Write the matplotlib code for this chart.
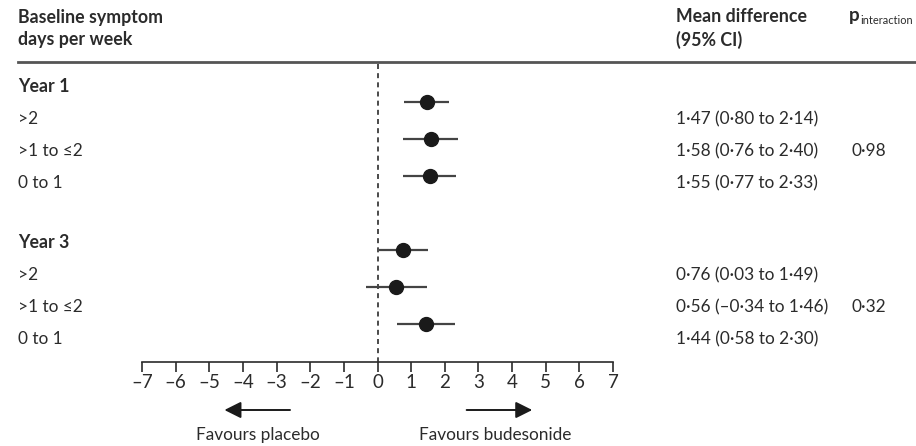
import matplotlib
matplotlib.use("Agg")
import matplotlib.pyplot as plt
from matplotlib.transforms import blended_transform_factory

plt.rcParams['font.family'] = ['Lato', 'DejaVu Sans']

# data
groups = ["Year 1", "Year 3"]
subgroups = [">2", ">1 to \u22642", "0 to 1"]
year1_mean = [1.47, 1.58, 1.55]
year1_lo = [0.80, 0.76, 0.77]
year1_hi = [2.14, 2.40, 2.33]
year3_mean = [0.76, 0.56, 1.44]
year3_lo = [0.03, -0.34, 0.58]
year3_hi = [1.49, 1.46, 2.30]
p_interaction = ["0\u00b798", "0\u00b732"]
ticks = list(range(-7, 8))

TXT = "#2b2b2b"
W, H = 916, 446
FS = 12.4     # body text
FSB = 12.8    # bold headers


def fmt(v):
    s = f"{abs(v):.2f}".replace(".", "\u00b7")
    return ("\u2013" if v < 0 else "") + s


fig = plt.figure(figsize=(W / 100, H / 100), dpi=100)
ax = fig.add_axes([0, 0, 1, 1])

# x: -7 at px 142, 7 at px 613 ; y in pixel rows (top = 0)
x0, x1 = 142, 613
unit = (x1 - x0) / 14
ax.set_xlim(-7 - x0 / unit, 7 + (W - x1) / unit)
ax.set_ylim(H, 0)
tr = blended_transform_factory(ax.transAxes, ax.transData)

for s in ["top", "left", "right"]:
    ax.spines[s].set_visible(False)
ax.spines["bottom"].set_position(("data", 362))
ax.spines["bottom"].set_bounds(-7, 7)
ax.spines["bottom"].set_color(TXT)
ax.spines["bottom"].set_linewidth(1.2)
ax.set_yticks([])
ax.set_xticks(ticks)
ax.set_xticklabels([str(t).replace("-", "\u2013") for t in ticks])
ax.tick_params(axis="x", direction="out", length=7, width=1.2, color=TXT,
               labelsize=13.5, labelcolor=TXT, pad=2)

# headers
ax.text(18 / W, 17, "Baseline symptom", transform=tr, fontsize=FSB, fontweight="bold",
        color=TXT, va="center")
ax.text(18 / W, 40, "days per week", transform=tr, fontsize=FSB, fontweight="bold",
        color=TXT, va="center")
ax.text(676 / W, 17, "Mean difference", transform=tr, fontsize=FSB, fontweight="bold",
        color=TXT, va="center")
ax.text(676 / W, 40, "(95% CI)", transform=tr, fontsize=FSB, fontweight="bold",
        color=TXT, va="center")
ax.text(849 / W, 16, "p", transform=tr, fontsize=13.5, fontweight="bold",
        color=TXT, va="center")
ax.text(860 / W, 20, "interaction", transform=tr, fontsize=7.9, color=TXT, va="center")
ax.plot([18 / W, 1], [62, 62], transform=tr, color="#555555", lw=2, clip_on=False)

# text rows
text_rows = [[119, 151, 183], [275, 307, 339]]
head_rows = [87, 243]
dot_rows = [[102, 139, 176], [250, 287, 324]]
means = [year1_mean, year3_mean]
los = [year1_lo, year3_lo]
his = [year1_hi, year3_hi]

for g in range(2):
    ax.text(18 / W, head_rows[g], groups[g], transform=tr, fontsize=FSB, fontweight="bold",
            color=TXT, va="center")
    for i in range(3):
        y = text_rows[g][i]
        ax.text(18 / W, y, subgroups[i], transform=tr, fontsize=FS, color=TXT, va="center")
        ax.text(676 / W, y,
                f"{fmt(means[g][i])} ({fmt(los[g][i])} to {fmt(his[g][i])})",
                transform=tr, fontsize=FS, color=TXT, va="center")
        yd = dot_rows[g][i]
        ax.plot([los[g][i], his[g][i]], [yd, yd], color="#444444", lw=1.6,
                solid_capstyle="butt", zorder=3)
        ax.plot(means[g][i], yd, "o", color="#1a1a1a", markersize=10, zorder=4)
    ax.text(852 / W, text_rows[g][1], p_interaction[g], transform=tr, fontsize=FS,
            color=TXT, va="center")

# line of no effect
ax.plot([0, 0], [64, 362], color=TXT, lw=1.2, linestyle=(0, (3, 2.5)), zorder=2)

# direction arrows
arrow = dict(arrowstyle="-|>,head_length=1.0,head_width=0.5", color="#1a1a1a", lw=1.4,
             shrinkA=0, shrinkB=0)
ax.annotate("", xy=(-4.55, 410), xytext=(-2.6, 410), arrowprops=arrow)
ax.annotate("", xy=(4.6, 410), xytext=(2.65, 410), arrowprops=arrow)
ax.text(-3.55, 435, "Favours placebo", fontsize=FS, color=TXT, ha="center", va="center")
ax.text(3.5, 435, "Favours budesonide", fontsize=FS, color=TXT, ha="center", va="center")

fig.savefig("out.png", dpi=100, facecolor="white")
